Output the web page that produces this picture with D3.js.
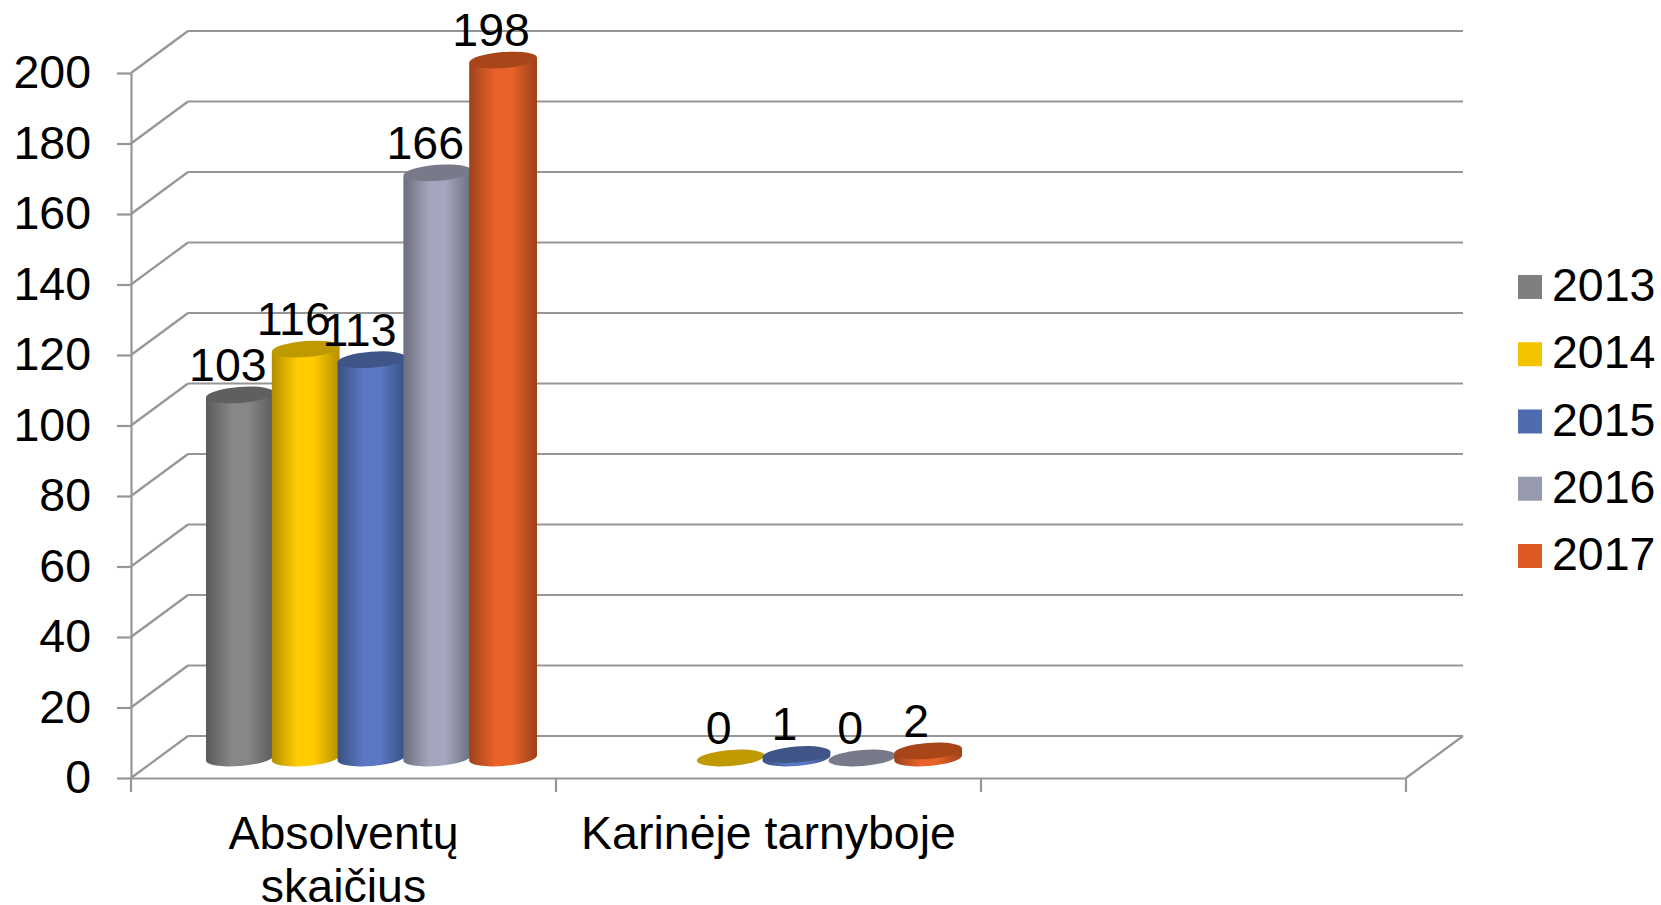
<!DOCTYPE html>
<html>
<head>
<meta charset="utf-8">
<script src="https://cdn.jsdelivr.net/npm/d3@7"></script>
<style>
  html, body { margin: 0; padding: 0; background: #fff; overflow: hidden; }
  text { font-family: "Liberation Sans", Arial, sans-serif; font-size: 46.5px; fill: #000; }
  .axis path, .axis line, .grid line { stroke: #969696; stroke-width: 2.2; fill: none; }
</style>
</head>
<body>
<script>
const categories = [['Absolventų', 'skaičius'], ['Karinėje tarnyboje'], ['']];
const years = ['2013', '2014', '2015', '2016', '2017'];
const values2013 = [103, null];
const values2014 = [116, 0];
const values2015 = [113, 1];
const values2016 = [166, 0];
const values2017 = [198, 2];
const yTicks = [0, 20, 40, 60, 80, 100, 120, 140, 160, 180, 200];

const seriesValues = [values2013, values2014, values2015, values2016, values2017];

// [edge of the cylinder, middle of the cylinder, top cap, legend swatch]
const colors = [
    ['#5a5a5a', '#878787', '#5f5f5f', '#7f7f7f'],
    ['#b48e00', '#ffcc00', '#bf9900', '#f5c400'],
    ['#39507f', '#5b78c4', '#3f5587', '#4f6cb0'],
    ['#6c6e7f', '#a3a6bc', '#787a8a', '#9799ad'],
    ['#9c4119', '#e9622a', '#a84519', '#dd5a25']
];

const SCREEN = { width: 1661, height: 905, left: 131, right: 1406, top: 73, bottom: 778 };
const DEPTH = { x: 57, y: -42 };      // offset of the back wall
const BASE_LIFT = 20;                 // cylinders stand mid-way into the floor
const RX = 34, RY = 8, TILT = -4.5;   // cap ellipse
const LABEL_DX = -12;

const svg = d3.select('body').append('svg')
    .attr('width', SCREEN.width)
    .attr('height', SCREEN.height);

const yScale = d3.scaleLinear().domain([0, 200]).range([SCREEN.bottom, SCREEN.top]);
const xScale = d3.scaleBand()
    .domain(categories.map(c => c.join(' ')))
    .range([SCREEN.left, SCREEN.right]);
const innerScale = d3.scaleBand()
    .domain(years)
    .range([76, 405]);

// back wall gridlines and the side wall diagonals
const grid = svg.append('g').attr('class', 'grid');
grid.selectAll('.back').data(yTicks).join('line')
    .attr('class', 'back')
    .attr('x1', SCREEN.left + DEPTH.x)
    .attr('x2', SCREEN.right + DEPTH.x)
    .attr('y1', d => yScale(d) + DEPTH.y)
    .attr('y2', d => yScale(d) + DEPTH.y);
grid.selectAll('.side').data(yTicks).join('line')
    .attr('class', 'side')
    .attr('x1', SCREEN.left)
    .attr('x2', SCREEN.left + DEPTH.x)
    .attr('y1', d => yScale(d))
    .attr('y2', d => yScale(d) + DEPTH.y);
grid.append('line')
    .attr('x1', SCREEN.right)
    .attr('x2', SCREEN.right + DEPTH.x)
    .attr('y1', yScale(0))
    .attr('y2', yScale(0) + DEPTH.y);

// axes
const yAxis = d3.axisLeft(yScale).tickValues(yTicks).tickSize(14).tickPadding(26).tickSizeOuter(0);
svg.append('g').attr('class', 'axis')
    .attr('transform', `translate(${SCREEN.left},0)`)
    .call(yAxis);

const xAxis = d3.axisBottom(xScale).tickSize(0).tickPadding(0).tickSizeOuter(0);
const xAxisGroup = svg.append('g').attr('class', 'axis')
    .attr('transform', `translate(0,${SCREEN.bottom})`)
    .call(xAxis);

xAxisGroup.selectAll('.tick text').each(function (d, i) {
    const text = d3.select(this).text(null).attr('y', 0).attr('dy', null);
    categories[i].forEach((line, j) => {
        text.append('tspan')
            .attr('x', 0)
            .attr('y', 71 + j * 53)
            .text(line);
    });
});

const edges = [...xScale.domain().map(d => xScale(d)), SCREEN.right];
xAxisGroup.selectAll('.edge').data(edges).join('line')
    .attr('class', 'edge')
    .attr('x1', d => d)
    .attr('x2', d => d)
    .attr('y1', 0)
    .attr('y2', 14);

// horizontal shading of the cylinders
const defs = svg.append('defs');
years.forEach((year, i) => {
    const gradient = defs.append('linearGradient').attr('id', `shade-${year}`);
    [[0, colors[i][0]], [0.38, colors[i][1]], [0.62, colors[i][1]], [1, colors[i][0]]].forEach(([offset, color]) => {
        gradient.append('stop').attr('offset', offset).attr('stop-color', color);
    });
});

const rad = TILT * Math.PI / 180;
const dx = RX * Math.cos(rad), dy = RX * Math.sin(rad);

const marks = [];
years.forEach((year, s) => {
    seriesValues[s].forEach((value, c) => {
        if (value === null) return;
        const band = xScale(xScale.domain()[c]);
        marks.push({
            s, c, year, value,
            cx: band + innerScale(year) + innerScale.bandwidth() / 2,
            topY: yScale(value) - BASE_LIFT,
            baseY: yScale(0) - BASE_LIFT
        });
    });
});

const barGroup = svg.append('g');

// cylinder wall and cap per mark, so a later year paints over the one before it
marks.forEach(d => {
    if (d.value > 0) {
        barGroup.append('path')
            .attr('fill', `url(#shade-${d.year})`)
            .attr('d', `M${d.cx - dx},${d.topY - dy}L${d.cx - dx},${d.baseY - dy}`
                + `A${RX},${RY} ${TILT} 0 0 ${d.cx + dx},${d.baseY + dy}`
                + `L${d.cx + dx},${d.topY + dy}Z`);
    }
    barGroup.append('ellipse')
        .attr('rx', RX)
        .attr('ry', RY)
        .attr('fill', colors[d.s][2])
        .attr('transform', `translate(${d.cx},${d.topY}) rotate(${TILT})`);
});

// data labels go above every cylinder
svg.append('g').selectAll('text').data(marks).join('text')
    .attr('text-anchor', 'middle')
    .attr('x', d => d.cx + LABEL_DX)
    .attr('y', d => d.topY - 14)
    .text(d => d.value);

// legend
const legendScale = d3.scalePoint().domain(years).range([287, 556]);
const legend = svg.append('g').selectAll('g').data(years).join('g')
    .attr('transform', d => `translate(1518,${legendScale(d)})`);
legend.append('rect')
    .attr('y', -12)
    .attr('width', 24)
    .attr('height', 24)
    .attr('fill', (d, i) => colors[i][3]);
legend.append('text')
    .attr('x', 34)
    .attr('y', 14)
    .text(d => d);
</script>
</body>
</html>
